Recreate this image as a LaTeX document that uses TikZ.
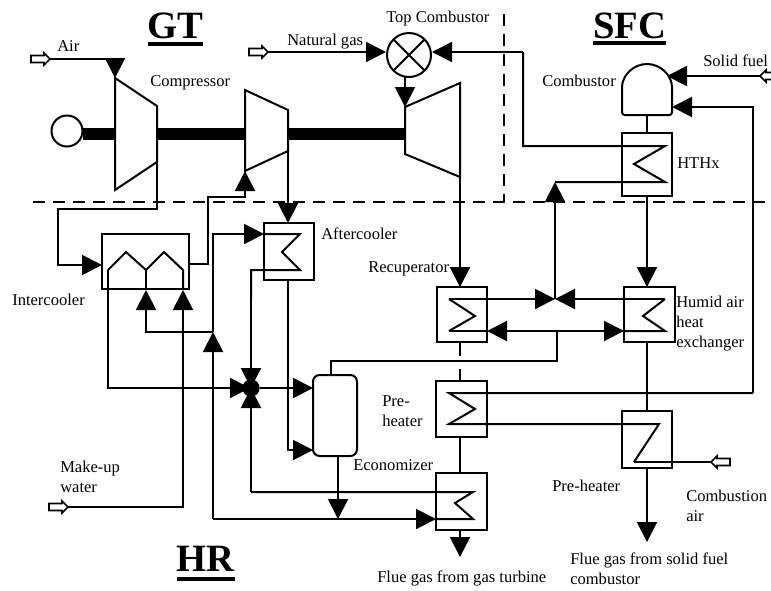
\documentclass[tikz,border=0pt]{standalone}
\usepackage{fontspec}
\setmainfont{Liberation Serif}
\usetikzlibrary{arrows.meta,calc}
\tikzset{
  x=0.75pt,y=-0.75pt,
  pipe/.style={line width=1.5pt,line join=miter},
  flow/.style={pipe,-{Triangle[length=15pt,width=15pt]}},
  hxbox/.style={draw,line width=1.5pt,inner sep=0pt,outer sep=0pt},
  lbl/.style={font=\fontsize{12.4}{15}\selectfont,inner sep=0pt,anchor=west,align=left},
  zone/.style={font=\bfseries\fontsize{29}{30}\selectfont,inner sep=0pt},
  shaft/.style={line width=9pt},
  bound/.style={line width=1.6pt,dash pattern=on 9pt off 6pt},
  bar/.style={line width=2.4pt},
  feed/.pic={\draw[line width=1.3pt,fill=white] (0,-3.5)--(13,-3.5)--(13,-6)--(19,0)--(13,6)--(13,3.5)--(0,3.5)--cycle;},
}
\begin{document}
\begin{tikzpicture}
\useasboundingbox[fill=white] (0,0) rectangle (771,590);
% boundaries
\coordinate (bl) at (33,202); \coordinate (br) at (765,202);
\coordinate (bv) at (504,14); \coordinate (bj) at (504,202);
\draw[bound] (bl) -- (br);
\draw[bound] (bv) -- (bj);
% boxes
\node[hxbox,minimum width=65.25pt,minimum height=41.25pt] (ic) at (145.5,261.5) {};
\node[hxbox,minimum width=37.5pt,minimum height=42.75pt] (aft) at (289,251.5) {};
\node[hxbox,minimum width=37.5pt,minimum height=47.25pt] (htx) at (647,164.5) {};
\node[hxbox,minimum width=38.25pt,minimum height=41.25pt] (hum) at (649.5,314.5) {};
\node[hxbox,minimum width=37.5pt,minimum height=41.25pt] (rec) at (462,314.5) {};
\node[hxbox,minimum width=38.25pt,minimum height=42pt] (php) at (461.5,409) {};
\node[hxbox,minimum width=37.5pt,minimum height=42.75pt] (phs) at (647,439.5) {};
\node[hxbox,minimum width=38.25pt,minimum height=42.75pt] (eco) at (461.5,501.5) {};
\node[hxbox,rounded corners=5pt,minimum width=33pt,minimum height=60.75pt] (drum) at (335,415.5) {};
\node[draw,circle,line width=1.5pt,inner sep=0pt,outer sep=0pt,minimum size=23.25pt] (gen) at (67,131) {};
\node[draw,circle,line width=1.5pt,inner sep=0pt,outer sep=0pt,minimum size=33pt] (top) at (409,55) {};
\node[circle,fill=black,inner sep=0pt,outer sep=0pt,minimum size=13pt] (knot) at (251,388) {};
% machines
\coordinate (c1a) at (115,78); \coordinate (c1b) at (157,106); \coordinate (c1c) at (157,162); \coordinate (c1d) at (115,190);
\coordinate (c2a) at (245,90); \coordinate (c2b) at (288,110); \coordinate (c2c) at (288,151); \coordinate (c2d) at (245,171);
\coordinate (tua) at (405,107); \coordinate (tub) at (460,83); \coordinate (tuc) at (460,177); \coordinate (tud) at (405,154);
\draw[pipe] (c1a) -- (c1b) -- (c1c) -- (c1d) -- cycle;
\draw[pipe] (c2a) -- (c2b) -- (c2c) -- (c2d) -- cycle;
\draw[pipe] (tua) -- (tub) -- (tuc) -- (tud) -- cycle;
\draw[shaft] (gen.east |- 0,134) -- (115,134);
\draw[shaft] (157,134) -- (245,134);
\draw[shaft] (288,134) -- (405,134);
\draw[pipe] (top.north west) -- (top.south east);
\draw[pipe] (top.north east) -- (top.south west);
% combustor
\coordinate (cmb) at (647,115);
\draw[pipe,rounded corners=2pt] (622,115) -- (622,90) arc[start angle=180,end angle=0,x radius=25,y radius=-26] -- (672,115) -- cycle;
\draw[pipe] (cmb) -- (cmb |- htx.north);
% inlets
\coordinate (airT) at (50,59);
\pic at (31,59) {feed};
\draw[flow] (airT) -| (c1a);
\coordinate (ngT) at (268,52); \coordinate (ngE) at (386,52);
\pic at (249,52) {feed};
\draw[flow] (ngT) -- (ngE);
\coordinate (sfT) at (760,76); \coordinate (sfE) at (667,76);
\pic[rotate=180] at (779,76) {feed};
\draw[flow] (sfT) -- (sfE);
\coordinate (caT) at (711,462); \coordinate (z6b) at (634,462);
\pic[rotate=180] at (730,462) {feed};
\draw[pipe] (caT) -- (z6b);
\coordinate (muT) at (68,507); \coordinate (ic3) at (183,290);
\pic at (49,507) {feed};
\draw[flow] (muT) -| (ic3);
% intercooler
\coordinate (ic1) at (108,270); \coordinate (ic2) at (146,270); \coordinate (ic4) at (183,270);
\coordinate (icL) at (146,290);
\draw[pipe] (ic1) -- (126,252) -- (ic2) -- (164,252) -- (ic4) -- (183,290);
\draw[pipe] (ic2) -- (146,290);
\draw[pipe] (ic1) -- (108,388) -- (knot);
\coordinate (kL) at (250,388);
\draw[flow] (108,388) -- (kL);
% compressor to intercooler
\draw[flow] (c1c) -- (157,209) -- (58,209) -- (58,265) -- (ic.west |- 0,265);
% intercooler to compressor 2
\draw[flow] (ic.east |- 0,264) -- (208,264) -- (208,197) -- (245,197) -- (c2d);
% compressor 2 to aftercooler
\draw[flow] (c2c) -- (c2c |- aft.north);
% aftercooler water
\coordinate (j1) at (213,332);
\draw[flow] (213,332) -- (146,332) -- (icL);
\draw[flow] (213,332) -- (213,234) -- (aft.west |- 0,234);
\draw[pipe] (aft.west |- 0,234) -- (300,234) -- (282,252) -- (300,270) -- (251,270) -- (251,300);
\draw[flow] (251,300) -- (knot.center);
% return up
\coordinate (eL) at (213,519);
\draw[flow] (eL) -- (j1);
\draw[flow] (eL) -- (eco.west |- eL);
\draw[pipe] (eco.west |- eL) -- (473,519) -- (455,503) -- (473,492) -- (251,492);
\draw[flow] (251,492) -- (knot.center);
% knot to drum
\draw[flow] (knot) -- (drum.west |- knot);
% aftercooler to drum
\draw[flow] (288,280) -- (288,450) -- (drum.west |- 0,450);
% drum out
\draw[flow] (338,456) -- (338,519);
\draw[pipe] (331,375) -- (331,361) -- (557,361) -- (557,331);
% turbine to recuperator
\draw[flow] (tuc) -- (tuc |- rec.north);
\draw[pipe] (rec.south -| tuc) -- (460,356);
\draw[pipe] (460,369) -- (460 ,381);
\draw[pipe] (php.south -| tuc) -- (eco.north -| tuc);
\draw[flow] (eco.south -| tuc) -- (460,557);
% top combustor
\draw[flow] (top.south -| tua) -- (tua);
% recuperator zig and air lines
\coordinate (rz1) at (449,299); \coordinate (rz3) at (449,331);
\coordinate (mid) at (555,299); 
\draw[pipe] (rz1) -- (475,316) -- (rz3);
\draw[flow] (rz1) -- (mid);
\draw[flow] (665,299) -- (mid);
\draw[pipe] (665,299) -- (643,316) -- (665,331) -- (hum.west |- 0,331);
\draw[flow] (557,331) -- (rec.east |- 0,331);
\draw[flow] (557,331) -- (hum.west |- 0,331);
\draw[pipe] (rz3) -- (rec.east |- 0,331);
% to HTHx
\coordinate (hz) at (665,146);
\draw[flow] (mid) -- (555,182);
\draw[pipe] (555,182) -- (665,182) -- (634,164) -- (hz) -- (523,146) -- (523,52);
\coordinate (topR) at (432,52);
\draw[flow] (523,52) -- (topR);
% SFC gas path
\draw[flow] (htx.south) -- (htx.south |- hum.north);
\draw[pipe] (hum.south -| htx.south) -- (phs.north);
\draw[flow] (phs.south) -- (647,542);
% preheaters
\draw[pipe] (753,393) -- (449,393) -- (475,409) -- (449,424) -- (659,424) -- (z6b);
\draw[flow] (753,393) -- (753,107) -- (672,107);
% labels
\node[lbl] at (57,46) {Air};
\node[lbl] at (150,83) {Compressor};
\node[lbl] at (287,42) {Natural gas};
\node[lbl] at (386,19) {Top Combustor};
\node[lbl] at (542,81) {Combustor};
\node[lbl] at (703,61) {Solid fuel};
\node[lbl] at (677,163) {HTHx};
\node[lbl] at (321,234) {Aftercooler};
\node[lbl] at (368,269) {Recuperator};
\node[lbl] at (676,324) {Humid air\\heat\\exchanger};
\node[lbl] at (12,300) {Intercooler};
\node[lbl] at (382,411) {Pre-\\heater};
\node[lbl] at (353,465) {Economizer};
\node[lbl] at (60,477) {Make-up\\water};
\node[lbl] at (552,486) {Pre-heater};
\node[lbl] at (686,506) {Combustion\\air};
\node[lbl] at (377,578) {Flue gas from gas turbine};
\node[lbl] at (570,569) {Flue gas from solid fuel\\combustor};
% zone titles
\node[zone] (gt) at (175,26) {GT};
\node[zone] (sfc) at (630,26) {SFC};
\node[zone] (hr) at (205,559) {HR};
\draw[bar] (148,44) -- (203,44);
\draw[bar] (593,43) -- (666,43);
\draw[bar] (177,579) -- (235,579);
\end{tikzpicture}
\end{document}
